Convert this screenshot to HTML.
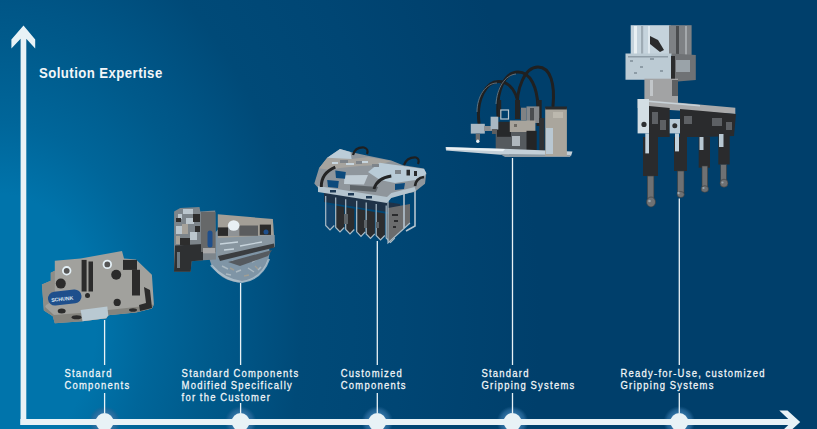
<!DOCTYPE html>
<html><head><meta charset="utf-8">
<style>
html,body{margin:0;padding:0;width:817px;height:429px;overflow:hidden;background:#003f6b;}
svg{display:block;position:absolute;left:0;top:0;}
.t{font-family:"Liberation Sans",sans-serif;fill:#f4f7f9;stroke:#f4f7f9;stroke-width:0.25px;font-size:11px;letter-spacing:1.45px;word-spacing:-0.5px;}
.h{font-family:"Liberation Sans",sans-serif;fill:#f2f6f8;font-size:15px;font-weight:bold;letter-spacing:0.5px;}
</style></head>
<body>
<svg width="817" height="429" viewBox="0 0 817 429">
<defs>
<radialGradient id="bg" gradientUnits="userSpaceOnUse" cx="0.88" cy="323.88" r="540" fx="0.88" fy="323.88" gradientTransform="translate(0.88 323.88) scale(1 1.36) translate(-0.88 -323.88)">
<stop offset="0.0000" stop-color="#0074ab"/>
<stop offset="0.1759" stop-color="#0074ab"/>
<stop offset="0.2741" stop-color="#00669a"/>
<stop offset="0.3907" stop-color="#005a8b"/>
<stop offset="0.4333" stop-color="#005687"/>
<stop offset="0.5556" stop-color="#004a78"/>
<stop offset="0.7407" stop-color="#004674"/>
<stop offset="1.0000" stop-color="#003f6b"/>
</radialGradient>
<radialGradient id="glow">
<stop offset="0.56" stop-color="#3274a6" stop-opacity="0.95"/>
<stop offset="0.78" stop-color="#2a6a9c" stop-opacity="0.7"/>
<stop offset="1" stop-color="#21608f" stop-opacity="0"/>
</radialGradient>
</defs>
<rect width="817" height="429" fill="url(#bg)"/>

<!-- axes -->
<g fill="#e8f2f6">
<polygon points="23.5,25.5 35.2,39.5 35.2,48.5 26.3,38.7 26.3,425 20.6,425 20.6,38.7 11.4,48.5 11.4,39.5"/>
<rect x="20.6" y="419" width="775" height="6"/>
<polygon points="779.3,410.4 787.5,410.4 800.2,422 787.5,433.6 779.3,433.6 788.3,425 788.3,419"/>
</g>

<!-- dots -->
<g>
<circle cx="104.6" cy="422" r="16" fill="url(#glow)"/>
<circle cx="240.6" cy="422" r="16" fill="url(#glow)"/>
<circle cx="377.3" cy="422" r="16" fill="url(#glow)"/>
<circle cx="512.5" cy="422" r="16" fill="url(#glow)"/>
<circle cx="679.3" cy="422" r="16" fill="url(#glow)"/>
</g>
<!-- connector lines -->
<g stroke="#e8f2f6" stroke-width="1.3">
<line x1="104.6" y1="320" x2="104.6" y2="365"/><line x1="104.6" y1="393" x2="104.6" y2="413"/>
<line x1="240.6" y1="283" x2="240.6" y2="365"/><line x1="240.6" y1="403" x2="240.6" y2="413"/>
<line x1="377.3" y1="241" x2="377.3" y2="365"/><line x1="377.3" y1="393" x2="377.3" y2="413"/>
<line x1="512.5" y1="158" x2="512.5" y2="365"/><line x1="512.5" y1="393" x2="512.5" y2="413"/>
<line x1="679.3" y1="198.5" x2="679.3" y2="365"/><line x1="679.3" y1="393" x2="679.3" y2="413"/>
</g>


<g fill="#e8f2f6">
<rect x="20.6" y="419" width="775" height="6"/>
<circle cx="104.6" cy="422" r="9"/>
<circle cx="240.6" cy="422" r="9"/>
<circle cx="377.3" cy="422" r="9"/>
<circle cx="512.5" cy="422" r="9"/>
<circle cx="679.3" cy="422" r="9"/>
</g>

<!-- text -->
<g transform="translate(39 78) scale(0.88 1)"><text class="h" x="0" y="0">Solution Expertise</text></g>
<g transform="translate(64.4 377) scale(0.86 1)"><text class="t"><tspan x="0" y="0">Standard</tspan><tspan x="0" y="12">Components</tspan></text></g>
<g transform="translate(181.6 377) scale(0.86 1)"><text class="t"><tspan x="0" y="0">Standard Components</tspan><tspan x="0" y="12">Modified Specifically</tspan><tspan x="0" y="24">for the Customer</tspan></text></g>
<g transform="translate(340.7 377) scale(0.86 1)"><text class="t"><tspan x="0" y="0">Customized</tspan><tspan x="0" y="12">Components</tspan></text></g>
<g transform="translate(481.4 377) scale(0.86 1)"><text class="t"><tspan x="0" y="0">Standard</tspan><tspan x="0" y="12">Gripping Systems</tspan></text></g>
<g transform="translate(620.5 377) scale(0.86 1)"><text class="t"><tspan x="0" y="0">Ready-for-Use, customized</tspan><tspan x="0" y="12">Gripping Systems</tspan></text></g>

<!-- products -->
<g id="products">
<g id="p1">
<polygon fill="#a1a19d" points="54.8,260.8 80.6,258.5 94.4,256 122,251 124,258.5 136,259.5 151.9,274.7 153.9,304.4 151.9,308.4 136,312.4 108.3,315.3 106.3,318.3 82.5,321.3 54.8,323.2 52.8,316.3 43.9,310.4 41.9,284.6 50.8,280.7 50.8,272.7 54.8,270.8"/>
<polygon fill="#85847e" points="43.9,310.4 52.8,316.3 54.8,323.2 82.5,321.3 106.3,318.3 108.3,315.3 136,312.4 151.9,308.4 153.9,304.4 136,307 108,310 80,313 54,315 44,306"/>
<polygon fill="#8e8d88" points="41.9,284.6 50.8,280.7 50.8,272.7 54.8,270.8 54.8,300 46,305 43.9,310.4"/>
<rect x="81.6" y="259.9" width="5" height="31.6" fill="#2b2b2b"/>
<rect x="88.5" y="261.5" width="4.5" height="30" fill="#2b2b2b"/>
<rect x="123" y="259.9" width="14" height="10" fill="#2b2b2b"/>
<rect x="132" y="269.8" width="8" height="25.7" fill="#2b2b2b"/>
<path d="M144,287 L150,290 L152,308 L140,311 L139,305 L146,303 Z" fill="#2b2b2b"/>
<circle cx="60.8" cy="283.6" r="5" fill="#2b2b2b"/>
<circle cx="116.2" cy="274.7" r="5" fill="#2b2b2b"/>
<circle cx="117.2" cy="302.4" r="3.6" fill="#2b2b2b"/>
<circle cx="87.5" cy="295.5" r="2.5" fill="#2b2b2b"/>
<ellipse cx="61.7" cy="311" rx="4" ry="2.5" fill="#2b2b2b"/>
<ellipse cx="76.6" cy="317.3" rx="5" ry="2" fill="#2b2b2b"/>
<ellipse cx="133" cy="310" rx="4" ry="1.8" fill="#2b2b2b"/>
<circle cx="66.7" cy="270.8" r="3.8" fill="#555" stroke="#e4f0f6" stroke-width="1.8"/>
<circle cx="107.3" cy="264.4" r="3.8" fill="#555" stroke="#e4f0f6" stroke-width="1.8"/>
<polygon fill="#b9c9d2" points="80.6,310 107.3,306.5 108.3,315.3 106.3,318.3 82.5,321.3"/>
<rect x="47.9" y="290.6" width="33.7" height="13.8" rx="6.9" fill="#1e4f8c" transform="rotate(-6 64.7 297.5)"/>
<text x="51" y="300.5" font-family="Liberation Sans,sans-serif" font-size="5.2" font-weight="bold" fill="#dfe8f2" transform="rotate(-6 64.7 297.5)">SCHUNK</text>
</g>
<g id="p2">
<circle cx="239" cy="251.5" r="30.5" fill="#7f95a6"/>
<path d="M211,265 Q224,280 242,282 Q262,279 269,259" fill="none" stroke="#b4c4cf" stroke-width="2.2" opacity="0.8"/>
<path d="M222,266 l6,3 M236,272 l5,-2 M248,268 l6,4 M232,261 l8,2 M252,262 l5,-3 M226,274 l5,1 M258,270 l3,-3" stroke="#c9d2d6" stroke-width="1.5" opacity="0.6"/>
<path d="M230,268 l4,2 M244,276 l5,-1 M255,266 l3,3" stroke="#b7a58a" stroke-width="1.4" opacity="0.6"/>
<polygon fill="#a39f97" points="217.8,214.3 272.9,219 274.7,247 217.8,259.1"/>
<polygon fill="#8896a0" points="217.8,238 274.7,235 274.7,247 217.8,259.1"/>
<path d="M220,244 l18,-2 M240,246 l22,-4 M224,250 l10,-1" stroke="#c7d4dc" stroke-width="1.3"/>
<polygon fill="#3a3d40" points="218,256 274,243.5 274.5,247.5 220,261"/>
<polygon fill="#555a5f" points="228,262 272,250 268,256 240,266"/>
<rect x="217.8" y="227.4" width="10.5" height="8.5" fill="#2a2a2a"/>
<rect x="239.3" y="225.5" width="18.7" height="10.3" fill="#5a5c5e"/>
<rect x="259.8" y="224.6" width="11.2" height="10.3" fill="#2a2a2a"/>
<circle cx="266" cy="232" r="2.5" fill="#1e4f8c"/>
<rect x="228" y="226" width="11" height="10" fill="#8f9396"/>
<ellipse cx="233.7" cy="225.5" rx="5.8" ry="5.2" fill="#e9f0f4"/>
<polygon fill="#7d858b" points="174.1,211.4 180.2,207.9 199.5,207 200.3,211.4 215.2,210.5 216,259.4 203,260.3 191.6,261.2 190.7,271.7 174,271.7"/>
<polygon fill="#2e3032" points="175,245.5 203,244 203,260.3 191.6,261.2 190.7,271.7 174,271.7"/>
<rect x="201" y="212" width="14.5" height="40" fill="#666869"/>
<rect x="203" y="248" width="12.2" height="5.3" fill="#a9a9a9"/>
<rect x="207.5" y="230.6" width="5" height="17" rx="2.5" fill="#1e4f8c"/>
<path d="M183,209 h10 v5 h-10z M186,218 h8 v6 h-8z M176,226 h6 v8 h-6z M190,232 h7 v8 h-7z M178,214 h4 v5 h-4z" fill="#c5d1d8" opacity="0.85"/>
<path d="M193,214 h7 v8 h-7z M180,238 h10 v7 h-10z M195,226 h5 v6 h-5z M176,218 h5 v4 h-5z" fill="#2d2d2d"/>
<path d="M182,224 h6 v10 h-6z M176,236 h4 v8 h-4z" fill="#a6a29a"/>
<path d="M177,252 h3 v16 h-3z" fill="#6f7a82"/>
</g>
<g id="p3">
<polygon fill="#1f3348" points="324,192 400,204 400,214 324,202"/>
<path d="M338,208 h3 v22 h-3z M356,212 h3 v20 h-3z M368,214 h4 v12 h-4z" fill="#6e7478"/>
<polygon fill="#14456e" points="325.7,204.0 334.3,205.5 334.3,225.5 330.0,230.0 325.7,225.5"/>
<polyline fill="none" stroke="#a9bcc8" stroke-width="1.2" points="325.7,196.0 325.7,225.5 330.0,230.0 334.3,225.5"/>
<polygon fill="#2c2d2f" points="335.7,205.6 344.3,207.1 344.3,227.5 340.0,232.0 335.7,227.5"/>
<polyline fill="none" stroke="#a9bcc8" stroke-width="1.2" points="335.7,197.6 335.7,227.5 340.0,232.0 344.3,227.5"/>
<polygon fill="#2c2d2f" points="345.7,207.2 354.3,208.7 354.3,229.5 350.0,234.0 345.7,229.5"/>
<polyline fill="none" stroke="#a9bcc8" stroke-width="1.2" points="345.7,199.2 345.7,229.5 350.0,234.0 354.3,229.5"/>
<polygon fill="#2c2d2f" points="356.7,208.8 365.3,210.3 365.3,231.8 361.0,236.3 356.7,231.8"/>
<polyline fill="none" stroke="#a9bcc8" stroke-width="1.2" points="356.7,200.8 356.7,231.8 361.0,236.3 365.3,231.8"/>
<polygon fill="#2c2d2f" points="366.2,210.4 374.8,211.9 374.8,233.9 370.5,238.4 366.2,233.9"/>
<polyline fill="none" stroke="#a9bcc8" stroke-width="1.2" points="366.2,202.4 366.2,233.9 370.5,238.4 374.8,233.9"/>
<polygon fill="#2c2d2f" points="376.2,212.0 384.8,213.5 384.8,235.5 380.5,240.0 376.2,235.5"/>
<polyline fill="none" stroke="#a9bcc8" stroke-width="1.2" points="376.2,204.0 376.2,235.5 380.5,240.0 384.8,235.5"/>
<polygon fill="#2c2d2f" points="386.2,213.6 394.8,215.1 394.8,238.0 390.5,242.5 386.2,238.0"/>
<polyline fill="none" stroke="#a9bcc8" stroke-width="1.2" points="386.2,205.6 386.2,238.0 390.5,242.5 394.8,238.0"/>
<path d="M344,214 h4 v10 h-4z M364,220 h3 v8 h-3z M376,222 h3 v6 h-3z" fill="#5e6468"/>
<polygon fill="#6b6c6d" points="388,208 410,204 410,223.5 388.5,243.3"/>
<polyline fill="none" stroke="#a9bcc8" stroke-width="1.2" points="388,200 388,243 410,223"/>
<path d="M392,214 h6 v2 h-6z M394,220 h4 v2 h-4z M393,226 h3 v2 h-3z" fill="#2a2b2d"/>
<path d="M404,190 L404,228 M415,190 L415,226 L406,231" fill="none" stroke="#b4c4cf" stroke-width="1.6"/>
<polygon fill="#8f969c" points="314.3,183.5 319,168.3 327.2,157.8 340,149 350.5,152 368,155.8 391.3,160.5 403,165.2 424,168.6 426.3,173.3 425,183.8 414.6,192 391.3,196.6 387,200 320,190"/>
<polygon fill="#bccdd8" points="327.2,157.8 340,149 350.5,152 351.6,159 335,162"/>
<polygon fill="#a6a49f" points="319,168.3 327.2,157.8 351.6,159 368,157 391.3,161 379.6,165 360,166 340,168 330,170"/>
<path d="M332,162 h6 v2 h-6z M346,163 h8 v2 h-8z M362,161 h6 v2 h-6z" fill="#c7d5de"/>
<polygon fill="#b9cbd7" points="379.6,162.8 403,166 424,169 426.3,173.3 422,179 395,183 380,180 368,172"/>
<polygon fill="#c0ccd4" points="344.6,175.3 368,175 364,184.6 344,184"/>
<polygon fill="#b5c5cf" points="318,186 387,197 391.3,193 414.6,187 416,191 391.3,198 387,203 318,192"/>
<path d="M330,190 h6 v2.5 h-6z M348,193 h6 v2.5 h-6z M366,196 h6 v2.5 h-6z" fill="#1f3a55"/>
<path d="M340,160 h8 v3 h-8z M356,161 h6 v3 h-6z M372,164 h7 v3 h-7z M395,170 h6 v4 h-6z" fill="#7e848a"/>
<path d="M335.3,170.6 L345.8,172 L345,178.8 L336,178 Z" fill="#0c4a7c"/>
<path d="M327.2,180 L338.8,181 L338,188 L328,187 Z" fill="#0c4a7c"/>
<path d="M350,185 L378,187 L376,192 L350,190 Z" fill="#5f6569"/>
<path d="M395,184 L405,183 L404,189 L395,190 Z" fill="#0c4a7c"/>
<path d="M406.5,169.8 h3.5 v5.8 h-3.5z M414,171 h3 v5 h-3z" fill="#2a2b2d"/>
<path d="M321.3,187 Q321,173 335.3,167.1" fill="none" stroke="#232425" stroke-width="3"/>
<path d="M374,189 Q377,178 391.3,176" fill="none" stroke="#232425" stroke-width="2.8"/>
<path d="M415,186 Q416,178 424,177" fill="none" stroke="#232425" stroke-width="2.6"/>
<path d="M353,155 Q355,147 364,147.5 Q369,149 367,154" fill="none" stroke="#1e1f20" stroke-width="2.2"/>
<path d="M404,165 Q407,157 416,157.5 Q420,159 418,164" fill="none" stroke="#1e1f20" stroke-width="2.2"/>
</g>
<g id="p4">
<g fill="none" stroke="#1f2021" stroke-width="3" stroke-linecap="round">
<path d="M479,123 C476,100 486,81 499,81.5 C510,82 517,92 519,108"/>
<path d="M498,116 C496,90 505,72 518,72 C531,72 537,88 538,106"/>
<path d="M517,112 C516,88 525,67 538,67 C551,67 555,85 553,106"/>
</g>
<g fill="none" stroke="#7d8a94" stroke-width="0.9" opacity="0.8">
<path d="M477,112 C477,96 486,83 497,83"/>
<path d="M496,104 C497,88 505,75 516,74"/>
</g>
<polygon fill="#555a5e" points="495.7,132 527,130 527,152 495.7,150"/>
<rect x="512" y="136" width="8" height="10" fill="#b0b8be"/>
<rect x="497" y="121.8" width="14" height="15" fill="#27292b"/>
<rect x="498" y="100" width="3.2" height="17" fill="#232425"/>
<rect x="515" y="100" width="5" height="19" fill="#232425"/>
<rect x="536.7" y="100" width="5" height="26" fill="#232425"/>
<rect x="500.8" y="110" width="7.7" height="9" fill="none" stroke="#b9c6ce" stroke-width="1.2"/>
<rect x="521" y="107.7" width="5.5" height="12.8" fill="#808284"/>
<rect x="526.5" y="106.4" width="12.8" height="16.6" fill="#85888b"/>
<rect x="530" y="108" width="4" height="14" fill="#4a4d50"/>
<rect x="509.8" y="120.5" width="25.6" height="11.5" fill="#a8a49c"/>
<rect x="514" y="124" width="3" height="3" fill="#6d6a64"/>
<rect x="526.5" y="130.8" width="10.2" height="23" fill="#242526"/>
<rect x="539.3" y="118" width="5.2" height="36" fill="#2f3133"/>
<polygon fill="#c4d0d8" points="445.6,147 510,149 572.5,151.5 571,156 510,155.5 446,150.6"/>
<polygon fill="#eaf1f4" points="446,147.2 505,149 503,151.2 447,149.6"/>
<polygon fill="#8e9ba4" points="500,154 571,155 570,157 505,157"/>
<rect x="545.2" y="108" width="21.7" height="48" fill="#aaa69d"/>
<rect x="545.2" y="106.5" width="21.7" height="3" fill="#27292b"/>
<path d="M546,128 h7 v26 h-7z" fill="#b9c8d2"/>
<path d="M553,112 h10 v6 h-10z" fill="#bcb8ae"/>
<rect x="470.8" y="123.8" width="14" height="9.8" fill="#a9b8c3"/>
<rect x="484" y="126" width="9" height="5" fill="#8d8f91"/>
<rect x="475.7" y="133.6" width="4.3" height="6.5" fill="#6c6e70"/>
<circle cx="477.8" cy="141.3" r="1.7" fill="#e6eef2"/>
<rect x="490.6" y="116.7" width="7.7" height="12.8" fill="#a9b8c3"/>
<rect x="492" y="129" width="5" height="5" fill="#5c5e60"/>
</g>
<g id="p5">
<rect x="630.7" y="25.2" width="40" height="30" fill="#c5d3dc"/>
<rect x="634" y="26" width="3" height="28" fill="#e9f0f3"/>
<rect x="641" y="26" width="2.2" height="28" fill="#9eabb4"/>
<rect x="648" y="26" width="2" height="28" fill="#dfe8ee"/>
<rect x="669" y="25.2" width="22.6" height="30" fill="#7e8184"/>
<rect x="676" y="26" width="3" height="30" fill="#4a4c4e"/>
<rect x="685" y="26" width="2" height="30" fill="#a4a8ab"/>
<path d="M650,36 l8,4 l6,10 l-4,2 l-10,-8z" fill="#2a2b2c"/>
<polygon fill="#bccbd4" points="625.5,53.6 671.6,53.6 671.6,79.8 625.5,79.8"/>
<path d="M630,60 h3 v2 h-3z M640,66 h3 v2 h-3z M650,58 h4 v2 h-4z M660,70 h3 v2 h-3z M634,72 h3 v2 h-3z M628,56 h40 v1.5 h-40z" fill="#8d9ca6"/>
<polygon fill="#6f7275" points="671.6,53.6 695.8,55 695.8,80 671.6,82"/>
<rect x="676" y="60" width="14" height="12" fill="#9aa3a9"/>
<rect x="671" y="56" width="4" height="24" fill="#2b2c2d"/>
<rect x="644.4" y="78.7" width="33.6" height="25" fill="#a2a3a4"/>
<rect x="650" y="80" width="3" height="16" fill="#c2c6c9"/>
<rect x="672" y="80" width="6" height="16" fill="#5e6062"/>
<polygon fill="#a9aaab" points="637.6,99 735.3,107.7 735.3,114 637.6,108"/>
<polygon fill="#c9d3d9" points="648,100.5 700,105 700,106.5 648,102"/>
<g fill="#2a2b2d">
<polygon points="649,106 669.7,108 669.7,137 649,137"/>
<polygon points="680,109 703,111 703,137 680,137"/>
<polygon points="703,111 736,114 734,136 703,137"/>
<polygon points="643,137 658,137 658,176 643,176"/>
<polygon points="674,137 687,137 687,171 674,171"/>
<polygon points="698.7,137 710,137 710,167.7 698.7,167.7"/>
<polygon points="718.3,136 729.7,136 729.7,164.5 718.3,164.5"/>
</g>
<g fill="#5d6064">
<rect x="652" y="112" width="6" height="12"/><rect x="684" y="116" width="8" height="8"/><rect x="712" y="118" width="10" height="8"/><rect x="726" y="122" width="6" height="8"/><rect x="660" y="120" width="6" height="10"/>
</g>
<rect x="637.6" y="99" width="11.4" height="34.4" fill="#d3dee4"/>
<circle cx="644" cy="124.4" r="2.6" fill="#2d2f31"/>
<rect x="669.7" y="119" width="10.3" height="14.4" fill="#b9cbd7"/>
<circle cx="674.8" cy="125.7" r="2.5" fill="#2d2f31"/>
<rect x="645.3" y="133.4" width="3.7" height="20" fill="#c3d2dc"/>
<rect x="675" y="133.4" width="4" height="18" fill="#c3d2dc"/>
<rect x="699.5" y="137" width="4" height="13" fill="#b8c8d3"/>
<rect x="719" y="134" width="4.5" height="13" fill="#b8c8d3"/>
<g fill="#6f7173" stroke="#3a3c3e" stroke-width="0.6">
<rect x="647.3" y="176" width="6.6" height="22.7"/>
<ellipse cx="651" cy="202" rx="4.5" ry="5"/>
<rect x="677.5" y="171" width="6.5" height="22"/>
<ellipse cx="680.7" cy="194.5" rx="3.6" ry="3"/>
<rect x="702" y="166" width="5.7" height="21"/>
<ellipse cx="704.8" cy="189" rx="3.7" ry="3.3"/>
<rect x="720.7" y="164.5" width="5.8" height="18"/>
<ellipse cx="724" cy="183.2" rx="4" ry="4"/>
</g>
<g fill="#9aa6ae"><circle cx="649.5" cy="201" r="1.3"/><circle cx="678.5" cy="193" r="1.2"/><circle cx="703.5" cy="188" r="1.1"/><circle cx="722.5" cy="182.5" r="1.1"/></g>
</g>
</g>
</svg>
</body></html>
